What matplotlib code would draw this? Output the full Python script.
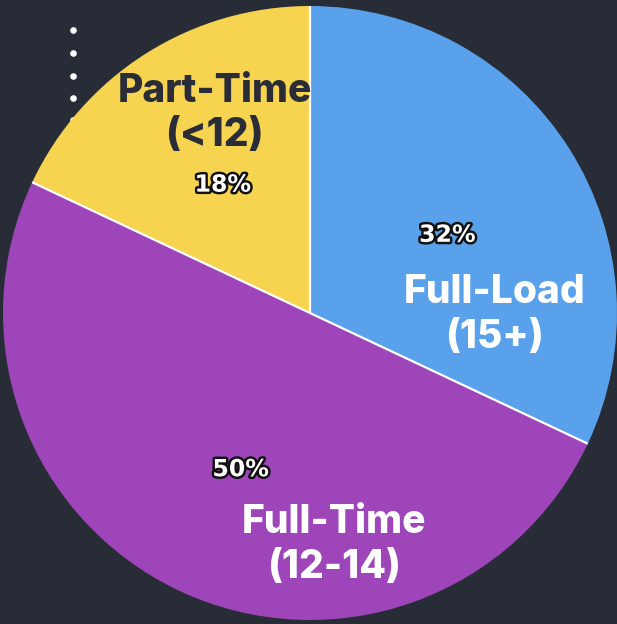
import numpy as np
import matplotlib.pyplot as plt
import matplotlib.patheffects as pe

# credit-load split of students
categories = ["Full-Load\n(15+)", "Full-Time\n(12-14)", "Part-Time\n(<12)"]
shares = [32, 50, 18]
colors = ["#5aa1eb", "#9e46b9", "#f6d44f"]
label_colors = ["white", "white", "#2a2d38"]
bg = "#282c36"

W, H = 617, 624
fig = plt.figure(figsize=(W / 100, H / 100), dpi=100, facecolor=bg)
ax = fig.add_axes([0, 0, 1, 1])
ax.set_facecolor(bg)

cx, cy, r = 310, 311, 307

# little menu dots in the corner, partly hidden by the pie
ax.scatter([73] * 5, [H - 30, H - 53, H - 76, H - 98, H - 120],
           s=14, color="white", zorder=0)

wedges, _, pcts = ax.pie(
    shares, colors=colors, startangle=90, counterclock=False,
    center=(cx, cy), radius=r, autopct="%d%%", pctdistance=0.53,
    wedgeprops=dict(linewidth=0), frame=True,
    textprops=dict(fontsize=17, fontweight="bold", color="white",
                   family="DejaVu Sans"))
ax.set_xlim(0, W)
ax.set_ylim(0, H)
ax.axis("off")

for t in pcts:
    x, y = t.get_position()
    t.set_position((x, y - 9))
    t.set_path_effects([pe.withStroke(linewidth=3.5, foreground="#111111")])

# thin white separators along the slice boundaries
for w in wedges:
    a = np.deg2rad(w.theta1)
    ax.plot([cx, cx + r * np.cos(a)], [cy, cy + r * np.sin(a)],
            color="white", lw=1.6, solid_capstyle="butt", zorder=3)

# category labels: (distance in radii, angle in degrees)
label_pos = [(0.60, -0.6), (0.76, -84), (0.72, 115.5)]
for name, (d, ang), c in zip(categories, label_pos, label_colors):
    a = np.deg2rad(ang)
    ax.text(cx + d * r * np.cos(a), cy + d * r * np.sin(a), name,
            ha="center", va="center", color=c, fontsize=28,
            fontweight="heavy", family="Inter", linespacing=1.25, zorder=4)

fig.savefig("out.png", dpi=100, facecolor=bg)
